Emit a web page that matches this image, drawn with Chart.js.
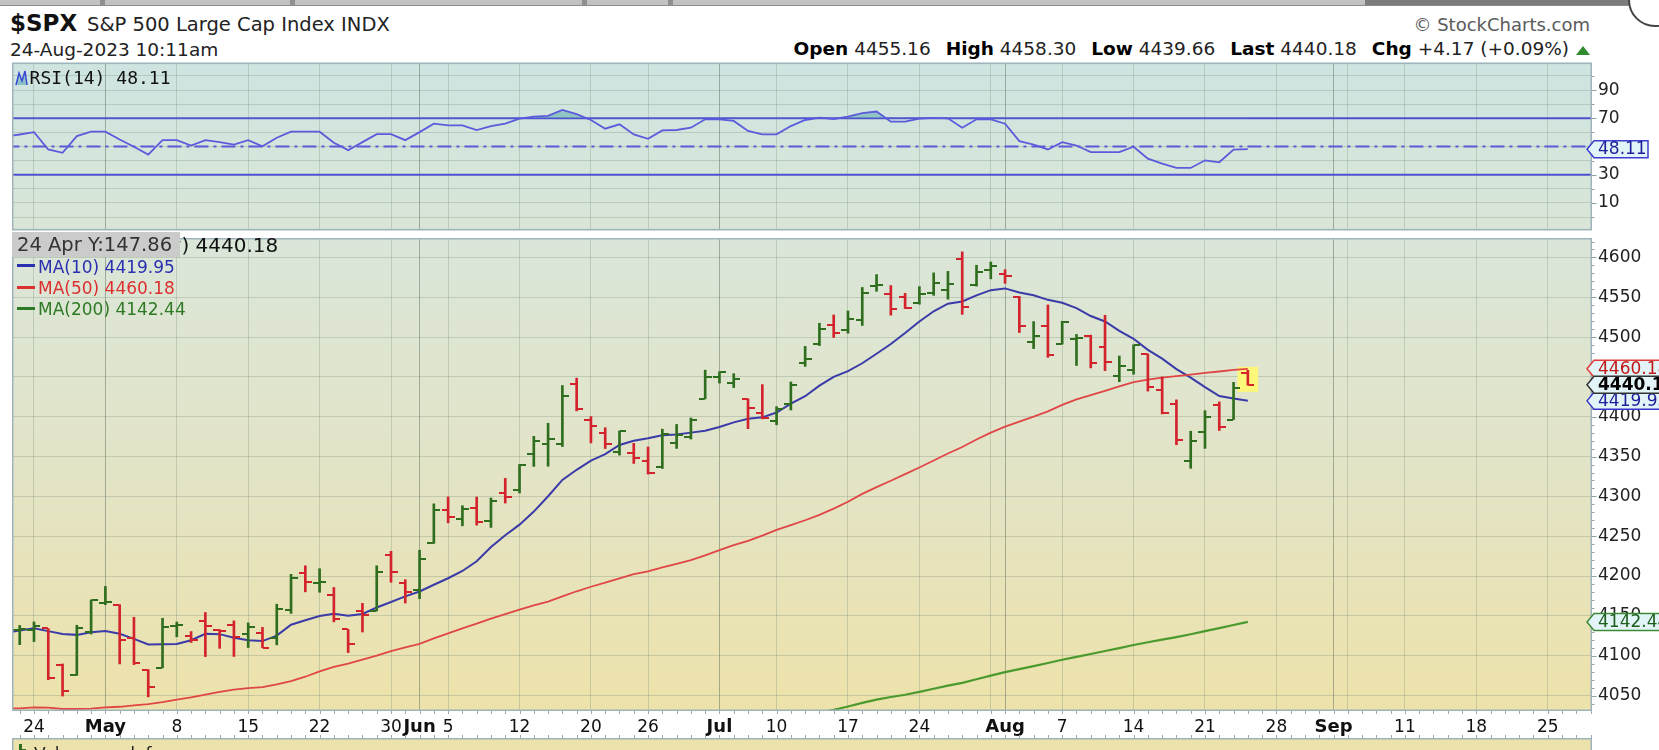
<!DOCTYPE html>
<html>
<head>
<meta charset="utf-8">
<script src="https://cdn.jsdelivr.net/npm/chart.js@4.4.1/dist/chart.umd.min.js"></script>
<style>
html,body{margin:0;padding:0}
body{width:1659px;height:750px;overflow:hidden;position:relative;background:#fff;font-family:'DejaVu Sans',sans-serif;color:#111}
.a{position:absolute;white-space:nowrap}
canvas{position:absolute;left:0}
#ohlc b{font-weight:bold;color:#000}
#ohlc .g{margin-left:15px}
</style>
</head>
<body>
<!-- browser strip remnant -->
<div class="a" style="left:0;top:0;width:1659px;height:5px;background:#c2c2c2;border-bottom:1px solid #8c8c8c"></div>
<div class="a" style="left:100px;top:0;width:5px;height:5px;background:#8f8f8f"></div>
<div class="a" style="left:290px;top:0;width:5px;height:5px;background:#8f8f8f"></div>
<div class="a" style="left:582px;top:0;width:5px;height:5px;background:#8f8f8f"></div>
<div class="a" style="left:668px;top:0;width:5px;height:5px;background:#8f8f8f"></div>
<div class="a" style="left:1365px;top:0;width:300px;height:5px;background:#7c7c7c"></div>
<div class="a" style="left:1628px;top:-27px;width:50px;height:50px;border-radius:50%;border:2px solid #444;background:#fff"></div>

<!-- header -->
<div class="a" style="left:10px;top:12px;font-size:23px;line-height:23px;font-weight:bold;color:#111">$SPX</div>
<div class="a" style="left:87px;top:15px;font-size:19.5px;line-height:19.5px;color:#222">S&amp;P 500 Large Cap Index INDX</div>
<div class="a" style="left:10px;top:41px;font-size:18.5px;line-height:18.5px;color:#222">24-Aug-2023 10:11am</div>
<div class="a" style="right:69px;top:16.3px;font-size:18px;line-height:18px;color:#5a5a5a">© StockCharts.com</div>
<div class="a" id="ohlc" style="right:90px;top:40.3px;font-size:18.5px;line-height:18.5px;color:#222"></div>
<div class="a" style="left:1576px;top:46px;width:0;height:0;border-left:7px solid transparent;border-right:7px solid transparent;border-bottom:9px solid #2e8b2e"></div>

<canvas id="rsiChart" width="1659" height="169" style="top:62px"></canvas>
<canvas id="priceChart" width="1659" height="519" style="top:231px"></canvas>

<!-- panel legends -->
<svg class="a" style="left:15px;top:70px" width="13" height="16" viewBox="0 0 13 16">
  <polygon points="1,15 4,3 7,11 10,1 12,15" fill="rgba(110,180,185,0.7)"/>
  <polyline points="1,15 4,3 7,11 10,1 12,15" fill="none" stroke="#3a48d8" stroke-width="1.5"/>
</svg>
<div class="a" id="rsiLabel" style="left:29.6px;top:69px;font-family:'DejaVu Sans Mono',monospace;font-size:18px;line-height:18px;color:#111"></div>
<div class="a" id="lg0" style="left:65.5px;top:234.8px;font-size:20px;line-height:20px;color:#111"></div>
<div class="a" style="left:12px;top:232px;width:168px;height:25px;background:#cbcbcb"></div>
<div class="a" style="left:17px;top:235.1px;font-size:19.5px;line-height:19.5px;color:#333">24 Apr Y:147.86</div>
<div class="a" style="left:17px;top:264px;width:18px;height:3px;background:#2a30b0"></div>
<div class="a" id="lg1" style="left:38px;top:259px;font-size:17px;line-height:17px;color:#2a30b0"></div>
<div class="a" style="left:17px;top:285.5px;width:18px;height:3px;background:#dc3030"></div>
<div class="a" id="lg2" style="left:38px;top:279.6px;font-size:17px;line-height:17px;color:#dc3030"></div>
<div class="a" style="left:17px;top:306.5px;width:18px;height:3px;background:#2e7a24"></div>
<div class="a" id="lg3" style="left:38px;top:300.6px;font-size:17px;line-height:17px;color:#2e7a24"></div>

<script>
// ---------------- DATA ----------------
// trading days; position in this list is the x value (Apr 24 = 2)
const dates = [
 '2023-04-20','2023-04-21','2023-04-24','2023-04-25','2023-04-26','2023-04-27','2023-04-28',
 '2023-05-01','2023-05-02','2023-05-03','2023-05-04','2023-05-05','2023-05-08','2023-05-09','2023-05-10','2023-05-11','2023-05-12',
 '2023-05-15','2023-05-16','2023-05-17','2023-05-18','2023-05-19','2023-05-22','2023-05-23','2023-05-24','2023-05-25','2023-05-26',
 '2023-05-30','2023-05-31','2023-06-01','2023-06-02','2023-06-05','2023-06-06','2023-06-07','2023-06-08','2023-06-09',
 '2023-06-12','2023-06-13','2023-06-14','2023-06-15','2023-06-16','2023-06-20','2023-06-21','2023-06-22','2023-06-23',
 '2023-06-26','2023-06-27','2023-06-28','2023-06-29','2023-06-30','2023-07-03','2023-07-05','2023-07-06','2023-07-07',
 '2023-07-10','2023-07-11','2023-07-12','2023-07-13','2023-07-14','2023-07-17','2023-07-18','2023-07-19','2023-07-20','2023-07-21',
 '2023-07-24','2023-07-25','2023-07-26','2023-07-27','2023-07-28','2023-07-31','2023-08-01','2023-08-02','2023-08-03','2023-08-04',
 '2023-08-07','2023-08-08','2023-08-09','2023-08-10','2023-08-11','2023-08-14','2023-08-15','2023-08-16','2023-08-17','2023-08-18',
 '2023-08-21','2023-08-22','2023-08-23','2023-08-24'
];
const opens = [null,
 4132.14,4132.07,4134.19,4087.78,4075.29,4129.63,4166.79,4164.10,4122.25,4082.61,
 4084.73,4136.98,4124.25,4143.74,4132.24,4138.54,4126.65,4127.95,4122.85,4157.68,
 4204.15,4190.78,4176.80,4132.96,4155.71,4156.16,4226.71,4190.74,4183.03,4241.01,
 4282.99,4271.34,4285.47,4268.69,4304.88,4308.32,4352.61,4366.29,4365.33,4440.95,
 4396.11,4380.01,4355.40,4354.17,4344.84,4337.36,4367.48,4374.94,4422.44,4450.48,
 4442.04,4422.62,4404.54,4394.23,4415.55,4467.69,4491.50,4514.61,4508.86,4521.78,
 4563.87,4554.38,4550.16,4543.39,4555.19,4558.96,4598.26,4565.75,4584.82,4578.83,
 4550.93,4494.27,4513.96,4491.58,4498.03,4501.57,4487.16,4450.69,4458.13,4478.87,
 4433.79,4416.32,4344.88,4380.28,4415.33,4396.44,4455.16];
const highs = [null,
 4138.02,4142.41,4134.19,4089.67,4138.24,4170.06,4186.92,4164.10,4148.30,4082.61,
 4147.02,4142.30,4130.35,4154.28,4132.80,4143.74,4141.25,4135.54,4164.67,4202.20,
 4212.91,4209.22,4185.68,4132.96,4165.74,4212.87,4231.10,4195.44,4232.43,4290.67,
 4299.28,4288.33,4299.19,4298.01,4322.62,4340.13,4375.37,4391.82,4439.20,4448.47,
 4400.15,4386.22,4382.25,4366.55,4362.06,4384.42,4390.35,4398.39,4458.48,4456.46,
 4454.06,4422.62,4440.39,4412.60,4443.64,4488.34,4517.38,4527.76,4532.85,4562.30,
 4578.43,4564.74,4555.00,4563.41,4580.62,4582.47,4607.07,4590.16,4594.22,4584.62,
 4550.93,4519.49,4540.34,4519.84,4503.31,4502.44,4527.37,4476.23,4490.33,4478.87,
 4449.95,4421.17,4381.82,4407.55,4418.59,4443.18,4458.30];
const lows = [null,
 4113.86,4117.77,4069.84,4049.35,4075.29,4127.18,4164.12,4089.72,4088.86,4048.28,
 4084.73,4123.81,4116.65,4098.92,4109.29,4099.12,4110.27,4109.86,4113.62,4153.14,
 4180.20,4179.68,4142.54,4103.98,4129.73,4156.16,4192.18,4166.15,4171.64,4241.01,
 4266.82,4263.09,4263.96,4261.07,4291.70,4304.37,4337.66,4337.85,4362.60,4407.44,
 4367.19,4360.14,4351.82,4341.34,4328.08,4335.00,4360.22,4371.97,4422.44,4442.29,
 4436.61,4385.05,4397.40,4389.92,4408.46,4463.23,4489.36,4499.56,4504.90,4514.59,
 4557.48,4527.56,4535.79,4541.29,4552.42,4547.58,4528.56,4564.01,4573.14,4567.53,
 4505.75,4485.54,4474.55,4491.15,4464.39,4461.33,4457.92,4443.98,4453.44,4432.19,
 4403.55,4364.83,4335.31,4360.30,4382.77,4396.44,4439.66];
const closes = [null,
 4133.52,4137.04,4071.63,4055.99,4135.35,4169.48,4167.87,4119.58,4090.75,4061.22,
 4136.25,4138.12,4119.17,4137.64,4130.62,4124.08,4136.28,4109.90,4158.77,4198.05,
 4191.98,4192.63,4145.58,4115.24,4151.28,4205.45,4205.52,4179.83,4221.02,4282.37,
 4273.79,4283.85,4267.52,4293.93,4298.86,4338.93,4369.01,4372.59,4425.84,4409.59,
 4388.71,4365.69,4381.89,4348.33,4328.82,4378.41,4376.86,4396.44,4450.38,4455.59,
 4446.82,4411.59,4398.95,4409.53,4439.26,4472.16,4510.04,4505.42,4522.79,4554.98,
 4565.72,4534.87,4536.34,4554.64,4567.46,4566.75,4537.41,4582.23,4588.96,4576.73,
 4513.39,4501.89,4478.03,4518.44,4499.38,4467.71,4468.83,4464.05,4489.72,4437.86,
 4404.33,4370.36,4369.71,4399.77,4387.55,4436.01,4440.18];
const ma10 = [
 4128.94,4131.79,4134.58,4130.85,4127.25,4126.17,4129.35,4131.01,4127.48,4121.10,
 4114.24,4114.52,4114.62,4119.38,4127.54,4127.07,4122.53,4119.37,4118.40,4125.21,
 4138.89,4144.46,4149.91,4152.55,4150.31,4152.38,4160.52,4167.44,4174.43,4180.66,
 4189.09,4197.27,4206.39,4218.59,4236.46,4251.21,4264.56,4280.91,4300.19,4320.67,
 4333.39,4344.88,4353.07,4364.50,4369.94,4372.94,4376.89,4377.67,4380.06,4382.51,
 4387.11,4392.92,4397.51,4399.22,4405.34,4416.38,4425.76,4439.08,4449.97,4457.22,
 4467.15,4479.04,4491.37,4505.11,4519.62,4532.44,4541.90,4544.64,4552.32,4558.94,
 4561.11,4555.88,4552.58,4546.75,4543.13,4536.32,4526.42,4519.56,4507.74,4497.82,
 4483.93,4473.02,4459.87,4449.04,4437.17,4425.99,4422.82,4419.95];
const ma50 = [
 4033.70,4034.02,4035.13,4034.75,4033.13,4033.11,4033.55,4035.10,4035.91,4037.77,
 4039.18,4041.66,4045.02,4047.76,4051.11,4054.69,4057.55,4059.36,4060.59,4064.04,
 4068.16,4073.63,4080.25,4086.05,4089.97,4095.15,4100.06,4105.83,4110.40,4114.76,
 4121.67,4128.17,4134.43,4140.23,4146.68,4152.10,4157.87,4163.06,4168.02,4174.53,
 4180.91,4186.58,4191.72,4197.17,4202.30,4205.95,4210.77,4215.28,4220.11,4226.03,
 4232.54,4238.81,4244.30,4250.85,4257.92,4264.00,4270.05,4276.89,4284.61,4293.25,
 4303.13,4311.72,4319.65,4327.99,4336.33,4345.07,4353.93,4361.95,4371.39,4380.00,
 4387.57,4394.00,4400.19,4406.83,4414.90,4421.86,4427.11,4432.37,4438.06,4443.43,
 4446.54,4449.15,4450.88,4452.92,4455.04,4456.82,4458.76,4460.18];
const ma200Start = 57; // first date position with a visible MA(200) value
const ma200 = [
 4028.5,4032.0,4036.3,4040.8,4044.9,4048.2,4051.0,4054.6,4058.5,4062.4,
 4066.0,4070.4,4075.0,4079.4,4083.2,4087.0,4090.8,4094.9,4098.6,4102.2,
 4105.9,4109.6,4113.5,4116.9,4120.2,4123.4,4127.0,4130.9,4134.6,4138.6,4142.44];
const rsi = [
 57.0,58.5,60.2,47.9,45.5,57.4,60.5,60.5,55.0,49.8,
 44.3,54.5,54.5,50.7,54.5,53.1,51.4,54.5,50.2,56.2,
 60.5,60.5,60.5,52.6,47.4,53.1,58.8,58.8,54.5,60.2,
 66.2,65.0,65.0,61.7,64.5,66.2,69.8,71.2,71.7,76.0,
 72.9,68.8,62.6,65.7,58.6,55.5,61.4,61.7,63.3,69.3,
 69.3,68.1,61.0,58.6,58.6,64.5,68.8,70.5,69.5,71.2,
 73.6,74.8,67.6,67.6,69.8,70.3,70.0,63.3,69.3,69.3,
 66.2,53.8,51.4,47.9,53.1,50.7,46.0,46.0,46.0,49.8,
 41.4,37.9,34.8,34.8,40.2,38.8,47.8,48.11];
// x-axis tick positions (date positions, incl. future trading days) and labels
const tickPos  = [2,7,12,17,22,27,29,31,36,41,45,50,54,59,64,69,70,74,79,84,89,93,94,98,103,108];
const tickText = ['24','May','8','15','22','30','Jun','5','12','20','26','Jul','10','17','24','','Aug','7','14','21','28','Sep','','11','18','25'];
const monthTicks = [7,29,50,70,93];
const priceTicks = [4050,4100,4150,4200,4250,4300,4350,4400,4450,4500,4550,4600];
const rsiGrid = [0,10,20,30,40,50,60,70,80,90,100];
const rsiLabels = [10,30,70,90];
const rsiBands = {upper:70, mid:50, lower:30};
const header = {open:4455.16, high:4458.30, low:4439.66, last:4440.18, chg:'+4.17', pct:'(+0.09%)'};

// ---------------- STYLE ----------------
const GREEN = '#2f6e1f', RED = '#d3232c';
const FONT = "'DejaVu Sans', sans-serif";
const WEEK_GRID = 'rgba(120,140,120,0.30)', MONTH_GRID = 'rgba(90,105,90,0.48)';
const AXIS_TICK = '#8ea2aa';
const X_MIN = 0.46, X_MAX = 111.1;
const RSI_MIN = -9.5, RSI_MAX = 109.5, P_MIN = 4030.6, P_MAX = 4624.4;
const last = dates.length - 1;
Chart.defaults.font.family = FONT;

// header / legend text
document.getElementById('ohlc').innerHTML =
 '<b>Open</b> ' + header.open.toFixed(2) +
 '<span class="g"><b>High</b> ' + header.high.toFixed(2) + '</span>' +
 '<span class="g"><b>Low</b> ' + header.low.toFixed(2) + '</span>' +
 '<span class="g"><b>Last</b> ' + header.last.toFixed(2) + '</span>' +
 '<span class="g"><b>Chg</b> ' + header.chg + ' ' + header.pct + '</span>';
document.getElementById('rsiLabel').textContent = 'RSI(14) ' + rsi[last].toFixed(2);
document.getElementById('lg0').textContent = '$SPX (Daily) ' + closes[last].toFixed(2);
document.getElementById('lg1').textContent = 'MA(10) ' + ma10[last].toFixed(2);
document.getElementById('lg2').textContent = 'MA(50) ' + ma50[last].toFixed(2);
document.getElementById('lg3').textContent = 'MA(200) ' + ma200[ma200.length-1].toFixed(2);

// open / close tick images
function tickImg(color, side) {
  const c = document.createElement('canvas'); c.width = 13; c.height = 2;
  const g = c.getContext('2d'); g.fillStyle = color;
  if (side === 'L') g.fillRect(0, 0, 6, 2); else g.fillRect(7, 0, 6, 2);
  return c;
}
const IMG = {oG: tickImg(GREEN,'L'), oR: tickImg(RED,'L'), cG: tickImg(GREEN,'R'), cR: tickImg(RED,'R')};
const isUp = p => closes[p] >= opens[p];

function drawTag(ctx, y, t) {
  const tip = 1587, bx = 1594, h = 17, right = t.right || 1672;
  ctx.beginPath();
  ctx.moveTo(tip, y); ctx.lineTo(bx, y - h/2); ctx.lineTo(right, y - h/2);
  ctx.lineTo(right, y + h/2); ctx.lineTo(bx, y + h/2); ctx.closePath();
  ctx.fillStyle = '#e2f4f7'; ctx.fill();
  ctx.lineWidth = 1.5; ctx.strokeStyle = t.border; ctx.stroke();
  ctx.fillStyle = t.color; ctx.font = (t.bold ? 'bold ' : '') + '17px ' + FONT;
  ctx.textBaseline = 'middle'; ctx.textAlign = 'left';
  ctx.fillText(t.text, 1598, y + 0.5);
}

const panelPlugin = {
  id: 'panel',
  beforeDraw(chart, args, o) {
    const {ctx, chartArea: a} = chart;
    const g = ctx.createLinearGradient(0, a.top, 0, a.bottom);
    o.stops.forEach(s => g.addColorStop(s[0], s[1]));
    ctx.save(); ctx.fillStyle = g;
    ctx.fillRect(a.left, a.top, a.right - a.left, a.bottom - a.top);
    ctx.restore();
  },
  afterDraw(chart, args, o) {
    const {ctx, chartArea: a} = chart;
    const ys = chart.scales.y, xs = chart.scales.x;
    ctx.save();
    ctx.strokeStyle = AXIS_TICK; ctx.lineWidth = 1;
    // minor ticks on right axis
    for (let v = o.minor[0]; v <= o.minor[1]; v += o.minor[2]) {
      const y = Math.round(ys.getPixelForValue(v)) + 0.5;
      if (y < a.top || y > a.bottom) continue;
      ctx.beginPath(); ctx.moveTo(a.right, y); ctx.lineTo(a.right + 2.5, y); ctx.stroke();
    }
    // major ticks at labelled values
    o.major.forEach(v => {
      const y = Math.round(ys.getPixelForValue(v)) + 0.5;
      ctx.beginPath(); ctx.moveTo(a.right, y); ctx.lineTo(a.right + 4.5, y); ctx.stroke();
    });
    // panel border
    ctx.strokeStyle = '#9fb3bd'; ctx.lineWidth = 1.5;
    ctx.strokeRect(a.left + 0.75, a.top + 0.75, a.right - a.left - 1.5, a.bottom - a.top - 1.5);
    if (o.volume) {
      // daily ticks under the price panel and the top of the (cut) volume panel
      const vTop = a.bottom + 27;
      ctx.fillStyle = '#ece2ab';
      ctx.fillRect(a.left, vTop, a.right - a.left, 40);
      ctx.strokeStyle = '#9fb3bd'; ctx.lineWidth = 1.5;
      ctx.strokeRect(a.left + 0.75, vTop + 0.75, a.right - a.left - 1.5, 40);
      ctx.strokeStyle = '#9aaab2'; ctx.lineWidth = 1;
      for (let p = 1; p < X_MAX; p++) {
        const x = Math.round(xs.getPixelForValue(p)) + 0.5;
        ctx.beginPath(); ctx.moveTo(x, a.bottom); ctx.lineTo(x, a.bottom + 3); ctx.stroke();
        ctx.beginPath(); ctx.moveTo(x, vTop); ctx.lineTo(x, vTop - 3); ctx.stroke();
      }
      ctx.fillStyle = '#2f6e1f'; ctx.fillRect(19, vTop + 6, 3, 10); ctx.fillRect(22, vTop + 11, 4, 5);
      ctx.fillStyle = '#222'; ctx.font = '17px ' + FONT; ctx.textBaseline = 'alphabetic';
      ctx.fillText('Volume undef', 34, vTop + 22);
    }
    o.tags.forEach(t => drawTag(ctx, ys.getPixelForValue(t.v), t));
    ctx.restore();
  }
};

function xScale(showLabels) {
  return {
    type: 'linear', min: X_MIN, max: X_MAX, offset: false,
    afterBuildTicks: s => { s.ticks = tickPos.map(v => ({value: v})); },
    grid: {
      offset: false, drawTicks: false, lineWidth: 1,
      color: c => (c.tick && monthTicks.includes(c.tick.value)) ? MONTH_GRID : WEEK_GRID
    },
    border: {display: false},
    ticks: showLabels ? {
      autoSkip: false, maxRotation: 0, padding: 6, color: '#111',
      callback: v => { const k = tickPos.indexOf(v); return k >= 0 ? tickText[k] : ''; },
      font: c => (c.tick && monthTicks.includes(c.tick.value))
        ? {family: FONT, size: 18, weight: 'bold'} : {family: FONT, size: 17}
    } : {display: false},
    afterFit: s => { s.height = showLabels ? 39 : 0; }
  };
}

// y scale whose first/last ticks sit on the panel edges with a tiny font,
// so the layout does not inset the plot area for label half-heights
function yScale(min, max, gridVals, labelVals) {
  const isEdge = v => v === min || v === max;
  return {
    type: 'linear', position: 'right', min: min, max: max, beginAtZero: false,
    afterBuildTicks: s => { s.ticks = [min].concat(gridVals, [max]).map(v => ({value: v})); },
    grid: {tickLength: 6, tickColor: 'rgba(0,0,0,0)',
      color: c => (c.tick && isEdge(c.tick.value)) ? 'rgba(0,0,0,0)' : WEEK_GRID},
    border: {display: false},
    ticks: {autoSkip: false, padding: 0, color: '#222',
      font: c => (c.tick && isEdge(c.tick.value)) ? {family: FONT, size: 1} : {family: FONT, size: 17},
      callback: v => labelVals.includes(v) ? String(v) : ''},
    afterFit: s => { s.width = 67; }
  };
}

// ---------------- RSI PANEL ----------------
const rsiPts = rsi.map((v, p) => ({x: p, y: v}));
const band = v => [{x: 0, y: v}, {x: 112, y: v}];
new Chart(document.getElementById('rsiChart'), {
  type: 'line',
  data: {datasets: [
    {data: band(rsiBands.upper), borderColor: '#4f4fd0', borderWidth: 2, pointRadius: 0, order: 3},
    {data: band(rsiBands.lower), borderColor: '#4f4fd0', borderWidth: 2, pointRadius: 0, order: 3},
    {data: band(rsiBands.mid), borderColor: '#5a5ad6', borderWidth: 2, borderDash: [14, 5, 3, 5], pointRadius: 0, order: 3},
    {data: rsiPts, borderColor: '#5b5bdc', borderWidth: 1.8, pointRadius: 0, order: 1,
     fill: {target: {value: rsiBands.upper}, above: 'rgba(95,170,175,0.55)', below: 'rgba(0,0,0,0)'}}
  ]},
  options: {
    responsive: false, animation: false, devicePixelRatio: 1, events: [],
    layout: {padding: {left: 12, right: 0, top: 0, bottom: 0}},
    plugins: {legend: {display: false}, tooltip: {enabled: false},
      panel: {stops: [[0, '#cee4e1'], [1, '#d9e6d7']], minor: [0, 100, 10], major: rsiLabels,
        tags: [{v: rsi[last], text: rsi[last].toFixed(2), border: '#3c3cd0', color: '#1e1e9a', right: 1648}]}},
    scales: {x: xScale(false), y: yScale(RSI_MIN, RSI_MAX, rsiGrid, rsiLabels)}
  },
  plugins: [panelPlugin]
});

// ---------------- PRICE PANEL ----------------
const barPos = dates.map((d, p) => p).filter(p => opens[p] !== null);
new Chart(document.getElementById('priceChart'), {
  type: 'bar',
  data: {datasets: [
    {type: 'bar', data: [{x: last, y: [lows[last] - 8, highs[last] + 4]}], backgroundColor: '#fff77a',
     barThickness: 20, grouped: false, order: 6},
    {type: 'line', data: ma200.map((v, k) => ({x: ma200Start + k, y: v})), borderColor: '#4b9a2e', borderWidth: 2.2, pointRadius: 0, order: 5},
    {type: 'line', data: ma50.map((v, p) => ({x: p, y: v})), borderColor: '#e04646', borderWidth: 1.8, pointRadius: 0, order: 5},
    {type: 'line', data: ma10.map((v, p) => ({x: p, y: v})), borderColor: '#3a3aa8', borderWidth: 2, pointRadius: 0, order: 5},
    {type: 'bar', data: barPos.map(p => ({x: p, y: [lows[p], highs[p]]})),
     backgroundColor: c => isUp(c.raw.x) ? GREEN : RED, barThickness: 2, grouped: false, order: 2},
    {type: 'scatter', data: barPos.map(p => ({x: p, y: opens[p]})), pointRadius: 6, pointHitRadius: 0,
     pointStyle: c => isUp(c.raw.x) ? IMG.oG : IMG.oR, order: 1},
    {type: 'scatter', data: barPos.map(p => ({x: p, y: closes[p]})), pointRadius: 6, pointHitRadius: 0,
     pointStyle: c => isUp(c.raw.x) ? IMG.cG : IMG.cR, order: 1}
  ]},
  options: {
    responsive: false, animation: false, devicePixelRatio: 1, events: [],
    layout: {padding: {left: 12, right: 0, top: 0, bottom: 0}},
    plugins: {legend: {display: false}, tooltip: {enabled: false},
      panel: {stops: [[0, '#dae6d9'], [0.5, '#e3e4c6'], [1, '#ede2aa']], minor: [4040, 4620, 10],
        major: priceTicks, volume: true,
        tags: [
          {v: ma50[last], text: ma50[last].toFixed(2), border: '#e03a3a', color: '#c01818'},
          {v: ma10[last], text: ma10[last].toFixed(2), border: '#3434c8', color: '#1e1e9a'},
          {v: closes[last], text: closes[last].toFixed(2), border: '#333', color: '#000', bold: true},
          {v: ma200[ma200.length-1], text: ma200[ma200.length-1].toFixed(2), border: '#3d8a34', color: '#1d5e1d'}
        ]}},
    scales: {x: xScale(true), y: yScale(P_MIN, P_MAX, priceTicks, priceTicks)}
  },
  plugins: [panelPlugin]
});
</script>
</body>
</html>
